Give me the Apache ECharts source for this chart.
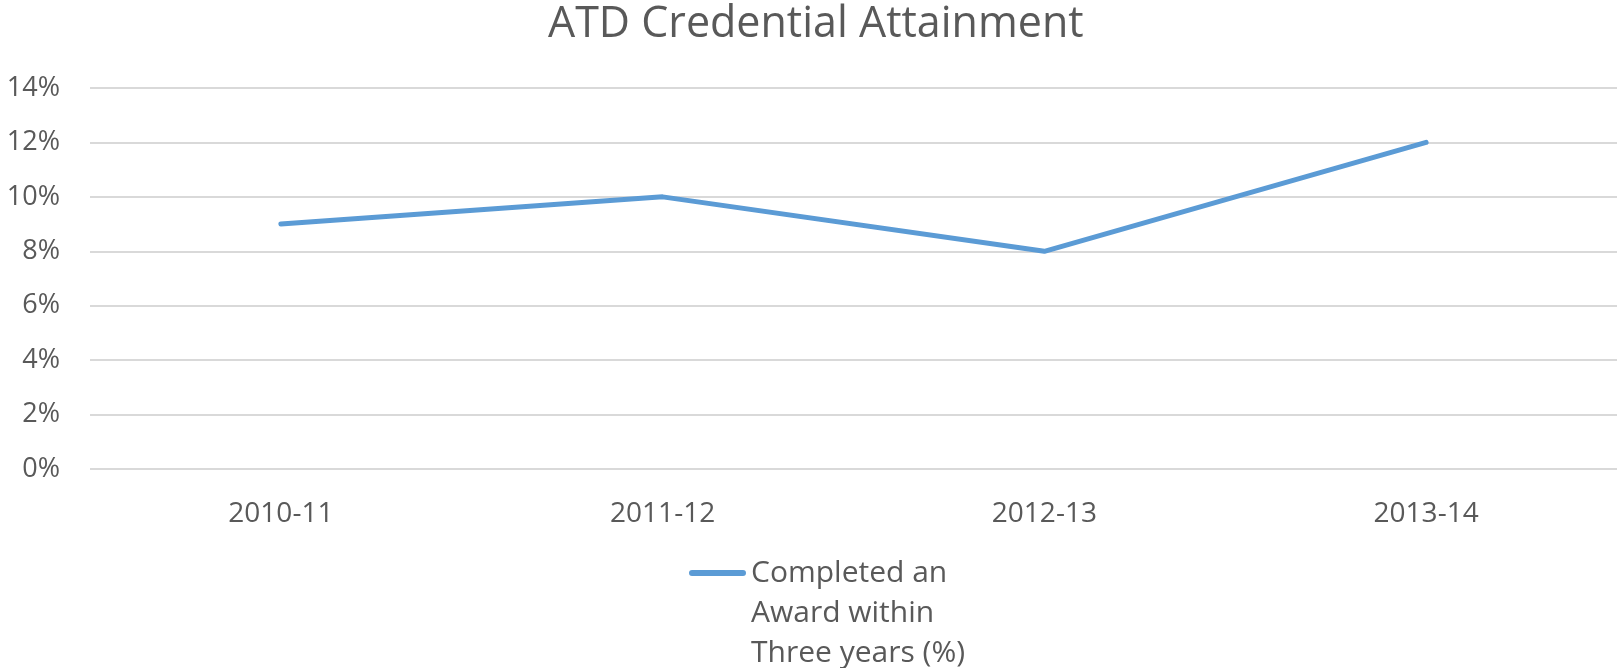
<!DOCTYPE html>
<html><head><meta charset="utf-8">
<script src="https://cdn.jsdelivr.net/npm/echarts@6/dist/echarts.min.js"></script>
<style>html,body{margin:0;padding:0;background:#fff}#c{width:1617px;height:668px}</style>
</head><body><div id="c"></div>
<script>
const categories = ['2010-11', '2011-12', '2012-13', '2013-14'];
const seriesName = 'Completed an\nAward within\nThree years (%)';
const values = [9, 10, 8, 12];
const yTicks = [0, 2, 4, 6, 8, 10, 12, 14];

const chart = echarts.init(document.getElementById('c'));
chart.setOption({
  animation: false,
  backgroundColor: '#fff',
  title: {
    text: 'ATD Credential Attainment', left: 548, top: 3, padding: 0,
    textStyle: { fontFamily: 'Open Sans', fontSize: 43, fontWeight: 'normal', color: '#595959' }
  },
  grid: { left: 90, right: 0, top: 88, bottom: 199, containLabel: false },
  legend: {
    data: [seriesName], left: 684, top: 548, itemWidth: 57, itemHeight: 86, itemGap: 0,
    icon: 'path://M3,0 h51 a3,3 0 0 1 0,6 h-51 a3,3 0 0 1 0,-6 Z M56.99,85.99 h0.01 v0.01 h-0.01 Z',
    textStyle: { fontFamily: 'Open Sans', fontSize: 30, color: '#595959', lineHeight: 40 }
  },
  xAxis: {
    type: 'category', data: categories, boundaryGap: true,
    axisLine: { show: false }, axisTick: { show: false },
    axisLabel: { fontFamily: 'Open Sans', fontSize: 28, color: '#595959', margin: 31 }
  },
  yAxis: {
    type: 'value', min: 0, max: 14, interval: 2,
    axisLabel: { fontFamily: 'Open Sans', fontSize: 27, color: '#595959', margin: 30, formatter: v => v + '%' },
    splitLine: { lineStyle: { color: '#d9d9d9', width: 2 } },
    axisLine: { show: false }, axisTick: { show: false }
  },
  series: [{
    name: seriesName, type: 'line', data: values, symbol: 'none',
    lineStyle: { color: '#5b9bd5', width: 5, cap: 'round', join: 'round' },
    itemStyle: { color: '#5b9bd5' }
  }]
});
</script></body></html>
